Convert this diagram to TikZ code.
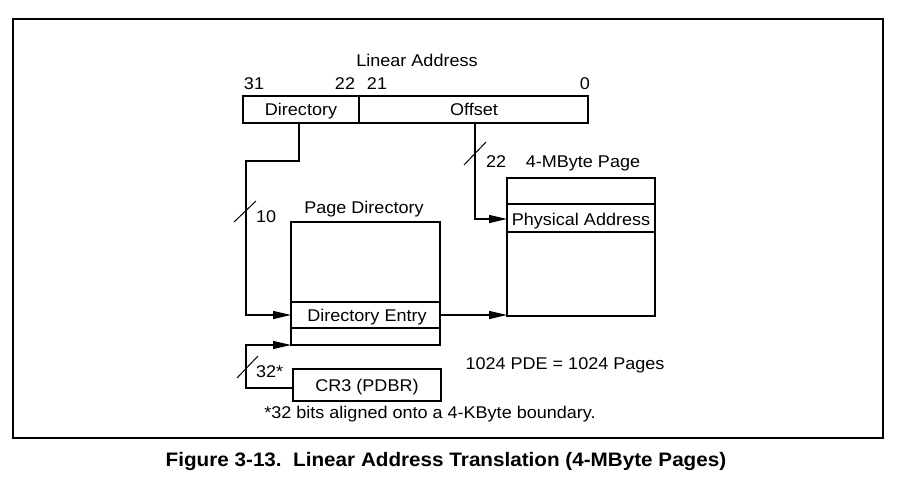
\documentclass[tikz,border=0pt]{standalone}
\usepackage{fontspec}
\setmainfont[FakeStretch=1.06]{Liberation Sans}
\usetikzlibrary{arrows.meta}
\begin{document}
\begin{tikzpicture}[x=1pt,y=-1pt,
  box/.style={draw,line width=1.2pt,inner sep=0pt},
  lbl/.style={font=\fontsize{17}{19}\selectfont,inner sep=0pt,text height=12.2pt,text depth=0pt},
  conn/.style={line width=1.2pt},
  arr/.style={conn,-{Triangle[length=18pt,width=8pt]}},
  slash/.style={line width=1pt}]
\useasboundingbox (0,0) rectangle (901,476);
\draw[line width=1.6pt] (13,19) rectangle (883,438);
% linear address
\node[lbl] (la) at (417,60.5) {Linear Address};
\node[lbl] (b31) at (254,83) {31};
\node[lbl] (b22) at (345,83) {22};
\node[lbl] (b21) at (377,83) {21};
\node[lbl] (b0) at (585,83) {0};
\draw[box] (243,96) rectangle (359,123);
\draw[box] (359,96) rectangle (588,123);
\node[lbl] (dir) at (301,109) {Directory};
\node[lbl] (off) at (474,109) {Offset};
\coordinate (dirb) at (299,123);
\coordinate (offb) at (475,123);
% page directory
\node[lbl] (pdl) at (364,207) {Page Directory};
\draw[box] (291,222) rectangle (440,345);
\draw[box] (291,302) -- (440,302) (291,328) -- (440,328);
\node[lbl] (de) at (367,315) {Directory Entry};
\coordinate (deL) at (291,315);
\coordinate (deR) at (440,315);
\coordinate (pdbot) at (291,345);
% CR3
\draw[box] (293,369) rectangle (441,401);
\node[lbl] (cr3) at (367,385) {CR3 (PDBR)};
\coordinate (cr3L) at (293,388);
% page
\node[lbl] (pgl) at (583,161) {4-MByte Page};
\draw[box] (507,178) rectangle (655,316);
\draw[box] (507,204) -- (655,204) (507,232) -- (655,232);
\node[lbl] (pa) at (581,219) {Physical Address};
\coordinate (paL) at (507,219);
\coordinate (pgL) at (507,315);
% connectors
\draw[arr] (dirb) -- (299,161) -- (246,161) -- (246,315) -- (deL);
\draw[arr] (offb) -- (475,219) -- (paL);
\draw[arr] (deR) -- (pgL);
\draw[arr] (cr3L) -- (246,388) -- (246,345) -- (pdbot);
% slashes
\draw[slash] (234,222) -- (256,201);
\draw[slash] (464,165) -- (486,142);
\draw[slash] (237,378) -- (258,356);
\node[lbl,anchor=west] (n10) at (256,216) {10};
\node[lbl,anchor=west] (n22) at (486,161) {22};
\node[lbl,anchor=west] (n32) at (256,371) {32*};
% notes
\node[lbl] (pde) at (565,363) {1024 PDE = 1024 Pages};
\node[lbl] (fn) at (430,412) {*32 bits aligned onto a 4-KByte boundary.};
\node[font=\fontsize{19.5}{22}\selectfont\bfseries,inner sep=0pt,text height=14pt,text depth=0pt] (cap) at (446,459) {Figure 3-13.\ \ Linear Address Translation (4-MByte Pages)};
\end{tikzpicture}
\end{document}
